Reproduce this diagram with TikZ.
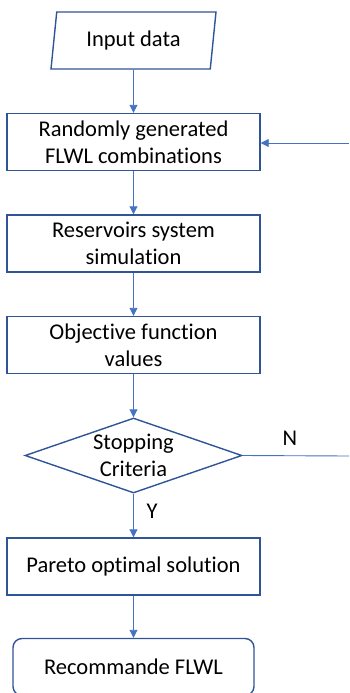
\documentclass[tikz,border=0pt]{standalone}
\usepackage{fontspec}
\setmainfont{Carlito}[Ligatures=NoCommon]
\usepackage{xcolor}
\usepackage{tikz}
\usetikzlibrary{shapes.geometric,arrows.meta}
\definecolor{boxblue}{HTML}{2F5597}
\definecolor{lineblue}{HTML}{4472C4}

\begin{document}
\begin{tikzpicture}[x=1pt,y=-1pt,
  font=\fontsize{22.5}{27}\selectfont,
  box/.style={draw=boxblue, line width=1.4pt, minimum width=253pt, minimum height=57pt, align=center, inner sep=0pt},
  data/.style={trapezium, trapezium stretches body, trapezium left angle=73.4, trapezium right angle=106.6,
    draw=boxblue, line width=1.4pt, minimum width=165pt, minimum height=57pt, inner sep=0pt},
  decision/.style={diamond, draw=boxblue, line width=1.4pt, minimum width=217pt, minimum height=75pt, inner sep=0pt},
  flow/.style={draw=lineblue, line width=0.9pt, -{Triangle[length=8pt,width=8pt]}},
  plain/.style={draw=lineblue, line width=0.9pt}]
\useasboundingbox (0,0) rectangle (349,693);
\node[data] (input) at (133.5,40.5) {Input data};
\node[box] (random) at (133.5,142) {Randomly generated\\FLWL combinations};
\node[box] (sim) at (133.5,243.5) {Reservoirs system\\simulation};
\node[box] (objective) at (133.5,345) {Objective function\\values};
\node[decision] (stop) at (133.5,455.5) {};
\node[align=center, inner sep=0pt] (stoptext) at (stop) {Stopping\\Criteria};
\node[box] (pareto) at (133.5,566.5) {Pareto optimal solution};
\node[box, rounded corners=9pt, minimum width=241pt] (recom) at (133.5,667) {Recommande FLWL};
\coordinate (backin) at (349,143);
\coordinate (noout) at (349,456);
\draw[flow] (input) -- (random);
\draw[flow] (random) -- (sim);
\draw[flow] (sim) -- (objective);
\draw[flow] (objective) -- (stop);
\draw[flow] (stop) -- (pareto);
\draw[flow] (pareto) -- (recom);
\draw[plain] (stop.east) -- (noout);
\draw[flow] (backin) -- (backin -| random.east);
\node (nlbl) at (290,438) {N};
\node (ylbl) at (152,511) {Y};
\end{tikzpicture}
\end{document}
